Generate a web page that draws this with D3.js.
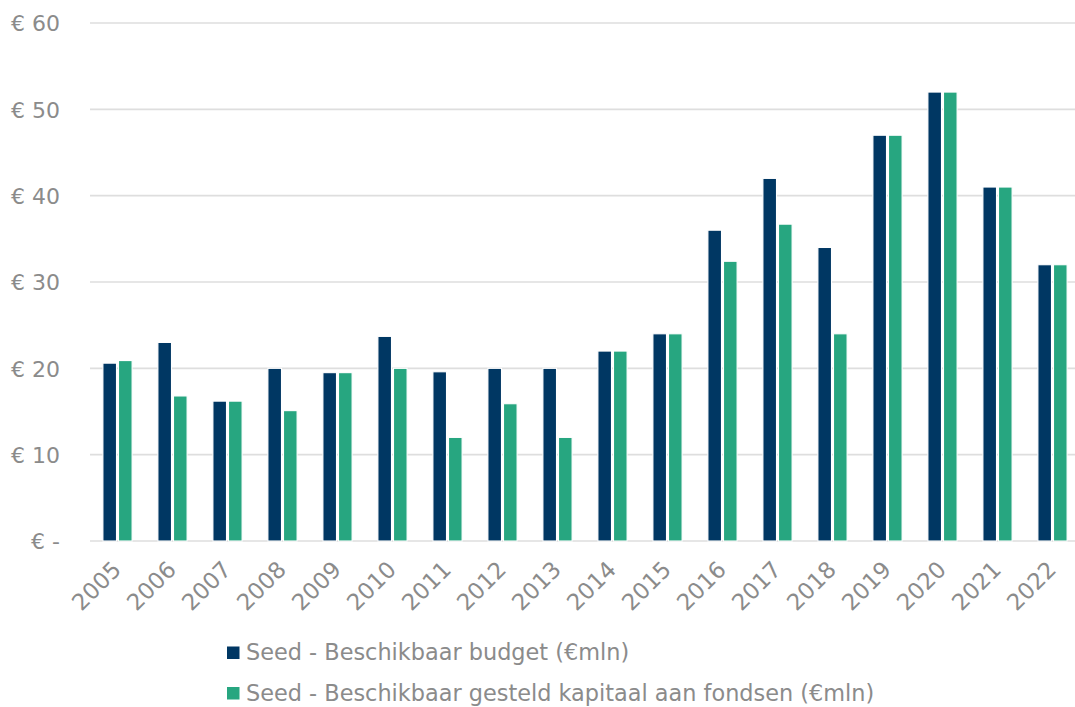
<!DOCTYPE html>
<html>
<head>
<meta charset="utf-8">
<script src="https://cdn.jsdelivr.net/npm/d3@7"></script>
<style>
  body { margin: 0; background: #fff; }
  svg text { font-family: "DejaVu Sans", Verdana, sans-serif; fill: #8b8b8b; }
</style>
</head>
<body>
<div id="chart"></div>
<script>
var years = ['2005', '2006', '2007', '2008', '2009', '2010', '2011', '2012', '2013',
             '2014', '2015', '2016', '2017', '2018', '2019', '2020', '2021', '2022']
var budget  = [20.6, 23, 16.2, 20, 19.5, 23.7, 19.6, 20, 20, 22, 24, 36, 42, 34, 47, 52, 41, 32]
var kapitaal = [20.9, 16.8, 16.2, 15.1, 19.5, 20, 12, 15.9, 12, 22, 24, 32.4, 36.7, 24, 47, 52, 41, 32]
var seriesNames = ['Seed - Beschikbaar budget (€mln)',
                   'Seed - Beschikbaar gesteld kapitaal aan fondsen (€mln)']
var seriesColors = ['#003763', '#27a680']
var yTicks = [0, 10, 20, 30, 40, 50, 60]

var width = 1075, height = 707
var svg = d3.select('#chart').append('svg')
    .attr('width', width)
    .attr('height', height)

var x0 = d3.scaleBand()
    .domain(years)
    .range([90, 1080])
    .paddingInner(0.433)
    .paddingOuter(0.2165)
var x1 = d3.scaleBand()
    .domain([0, 1])
    .range([0, x0.bandwidth()])
var y = d3.scaleLinear()
    .domain([0, 60])
    .range([541, 23])

// gridlines
svg.append('g')
  .selectAll('line')
  .data(yTicks)
  .enter().append('line')
    .attr('x1', 90)
    .attr('x2', width)
    .attr('y1', (d) => y(d))
    .attr('y2', (d) => y(d))
    .attr('stroke', '#dedede')
    .attr('stroke-width', 1.6)

// y labels
var yAxis = d3.axisLeft(y)
    .tickValues(yTicks)
    .tickSize(0)
    .tickPadding(0)
    .tickFormat((d) => d === 0 ? '€ -' : '€ ' + d)
var yg = svg.append('g')
    .attr('transform', 'translate(60,0)')
    .call(yAxis)
yg.select('.domain').remove()
yg.selectAll('text')
    .attr('font-size', 22)
    .attr('fill', '#8b8b8b')
    .attr('dy', '0.35em')

// bars
var rows = years.map((yr, i) => ({ year: yr, values: [budget[i], kapitaal[i]] }))
var barW = x1.bandwidth() - 2
svg.append('g')
  .selectAll('g')
  .data(rows)
  .enter().append('g')
    .attr('transform', (d) => 'translate(' + x0(d.year) + ',0)')
  .selectAll('rect')
  .data((d) => d.values.map((v, s) => ({ v, s })))
  .enter().append('rect')
    .attr('x', (d) => x1(d.s) + (x1.bandwidth() - barW) / 2)
    .attr('width', barW)
    .attr('y', (d) => y(d.v))
    .attr('height', (d) => y(0) - y(d.v))
    .attr('fill', (d) => seriesColors[d.s])
    .attr('stroke', '#ffffff')
    .attr('stroke-width', 1.1)

// x labels
var xAxis = d3.axisBottom(x0).tickSize(0).tickPadding(0)
var xg = svg.append('g')
    .attr('transform', 'translate(0,541)')
    .call(xAxis)
xg.select('.domain').remove()
xg.selectAll('text')
    .attr('font-size', 22.8)
    .attr('fill', '#8b8b8b')
    .attr('text-anchor', 'end')
    .attr('dy', null)
    .attr('y', 0)
    .attr('transform', 'translate(5,30) rotate(-45)')

// legend
var legend = svg.append('g')
  .selectAll('g')
  .data(seriesNames)
  .enter().append('g')
    .attr('transform', (d, i) => 'translate(227,' + (660 + i * 40.5) + ')')
legend.append('rect')
    .attr('x', 0)
    .attr('y', -13.5)
    .attr('width', 12.5)
    .attr('height', 12.5)
    .attr('fill', (d, i) => seriesColors[i])
legend.append('text')
    .attr('x', 19)
    .attr('y', 0)
    .attr('font-size', 22.4)
    .text((d) => d)
</script>
</body>
</html>
